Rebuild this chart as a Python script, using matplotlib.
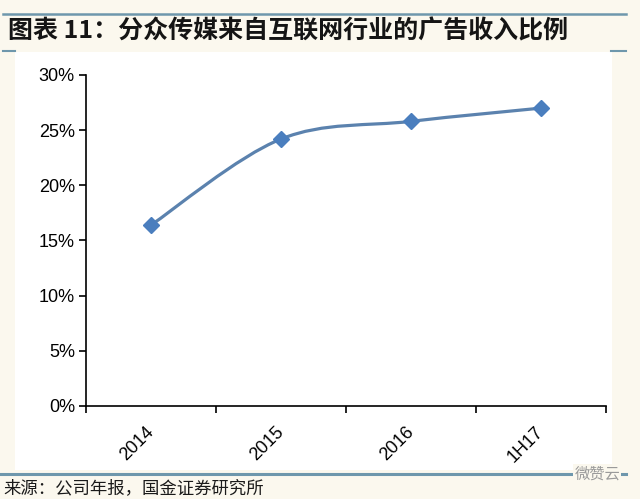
import matplotlib
matplotlib.use("Agg")
import matplotlib.pyplot as plt
from matplotlib.path import Path
from matplotlib.patches import PathPatch, Rectangle
from matplotlib.lines import Line2D
import numpy as np

plt.rcParams['font.family'] = ['Liberation Sans', 'Noto Sans CJK SC', 'DejaVu Sans']

categories = ["2014", "2015", "2016", "1H17"]
values = [0.164, 0.242, 0.258, 0.270]
yticks = [0.0, 0.05, 0.10, 0.15, 0.20, 0.25, 0.30]
ytick_labels = ["0%", "5%", "10%", "15%", "20%", "25%", "30%"]
title = "图表 11：分众传媒来自互联网行业的广告收入比例"
source = "来源：公司年报，国金证券研究所"
watermark = "微赞云"

W, H = 640, 499
fig = plt.figure(figsize=(W / 100, H / 100), dpi=100)
fig.patch.set_facecolor('#FBF8EE')

def fx(px):
    return px / W

def fy(py):
    return 1 - py / H

# white chart panel
fig.add_artist(Rectangle((fx(15), fy(470)), fx(612) - fx(15), fy(52) - fy(470),
                         transform=fig.transFigure, facecolor='white', edgecolor='none', zorder=-10))

line_col = '#6E97AC'
fig.add_artist(Line2D([fx(3), fx(626)], [fy(14), fy(14)], color=line_col, lw=1.8))
fig.add_artist(Line2D([fx(3), fx(15)], [fy(51), fy(51)], color=line_col, lw=1.5))
fig.add_artist(Line2D([fx(611), fx(626)], [fy(51), fy(51)], color=line_col, lw=1.5))
fig.add_artist(Line2D([fx(0), fx(626)], [fy(474), fy(474)], color=line_col, lw=2.2))

fig.text(fx(8), fy(31), title, fontsize=18, fontweight='bold', color='#151515',
         family=['Noto Sans CJK SC', 'DejaVu Sans'], ha='left', va='center')
fig.text(fx(3), fy(488), source, fontsize=12.5, color='#1a1a1a',
         family=['Noto Sans CJK SC', 'DejaVu Sans'], ha='left', va='center')
fig.text(fx(620), fy(474), watermark, fontsize=11, color='#9a9a9a',
         family=['Noto Sans CJK SC', 'DejaVu Sans'], ha='right', va='center',
         bbox=dict(facecolor='#FBF8EE', edgecolor='none', pad=1))

ax = fig.add_axes([fx(86), fy(406), fx(606) - fx(86), fy(75) - fy(406)])
ax.set_facecolor('none')
x = np.arange(len(categories))
ax.set_xlim(-0.5, len(categories) - 0.5)
ax.set_ylim(0, 0.30)

# Excel-style smoothed line (Bezier through data points)
pts = np.column_stack([x, values]).astype(float)
verts = [tuple(pts[0])]
codes = [Path.MOVETO]
n = len(pts)
for i in range(n - 1):
    p0 = pts[i - 1] if i > 0 else pts[i]
    p1 = pts[i]
    p2 = pts[i + 1]
    p3 = pts[i + 2] if i + 2 < n else pts[i + 1]
    c1 = p1 + (p2 - p0) / 6.0
    c2 = p2 - (p3 - p1) / 6.0
    verts += [tuple(c1), tuple(c2), tuple(p2)]
    codes += [Path.CURVE4] * 3
ax.add_patch(PathPatch(Path(verts, codes), facecolor='none', edgecolor='#5B82AE', lw=2.3,
                       capstyle='round', joinstyle='round', zorder=2))
ax.plot(x, values, linestyle='none', marker='D', markersize=8.5,
        markerfacecolor='#4A7EBE', markeredgecolor='#4A7EBE', zorder=3)

for s in ['top', 'right']:
    ax.spines[s].set_visible(False)
for s in ['left', 'bottom']:
    ax.spines[s].set_linewidth(1.2)
    ax.spines[s].set_color('black')

ax.set_yticks(yticks)
ax.set_yticklabels(ytick_labels, fontsize=13)
ax.tick_params(axis='y', direction='out', length=5, width=1.2, pad=3)

ax.set_xticks(np.arange(-0.5, len(categories), 1.0))
ax.set_xticklabels([])
ax.set_xticks(x, minor=True)
ax.set_xticklabels(categories, minor=True, fontsize=13, rotation=45,
                   ha='right', va='center', rotation_mode='anchor')
ax.tick_params(axis='x', which='major', direction='out', length=5, width=1.2)
ax.tick_params(axis='x', which='minor', length=0, pad=17)

fig.savefig('out.png', dpi=100, facecolor=fig.get_facecolor())
